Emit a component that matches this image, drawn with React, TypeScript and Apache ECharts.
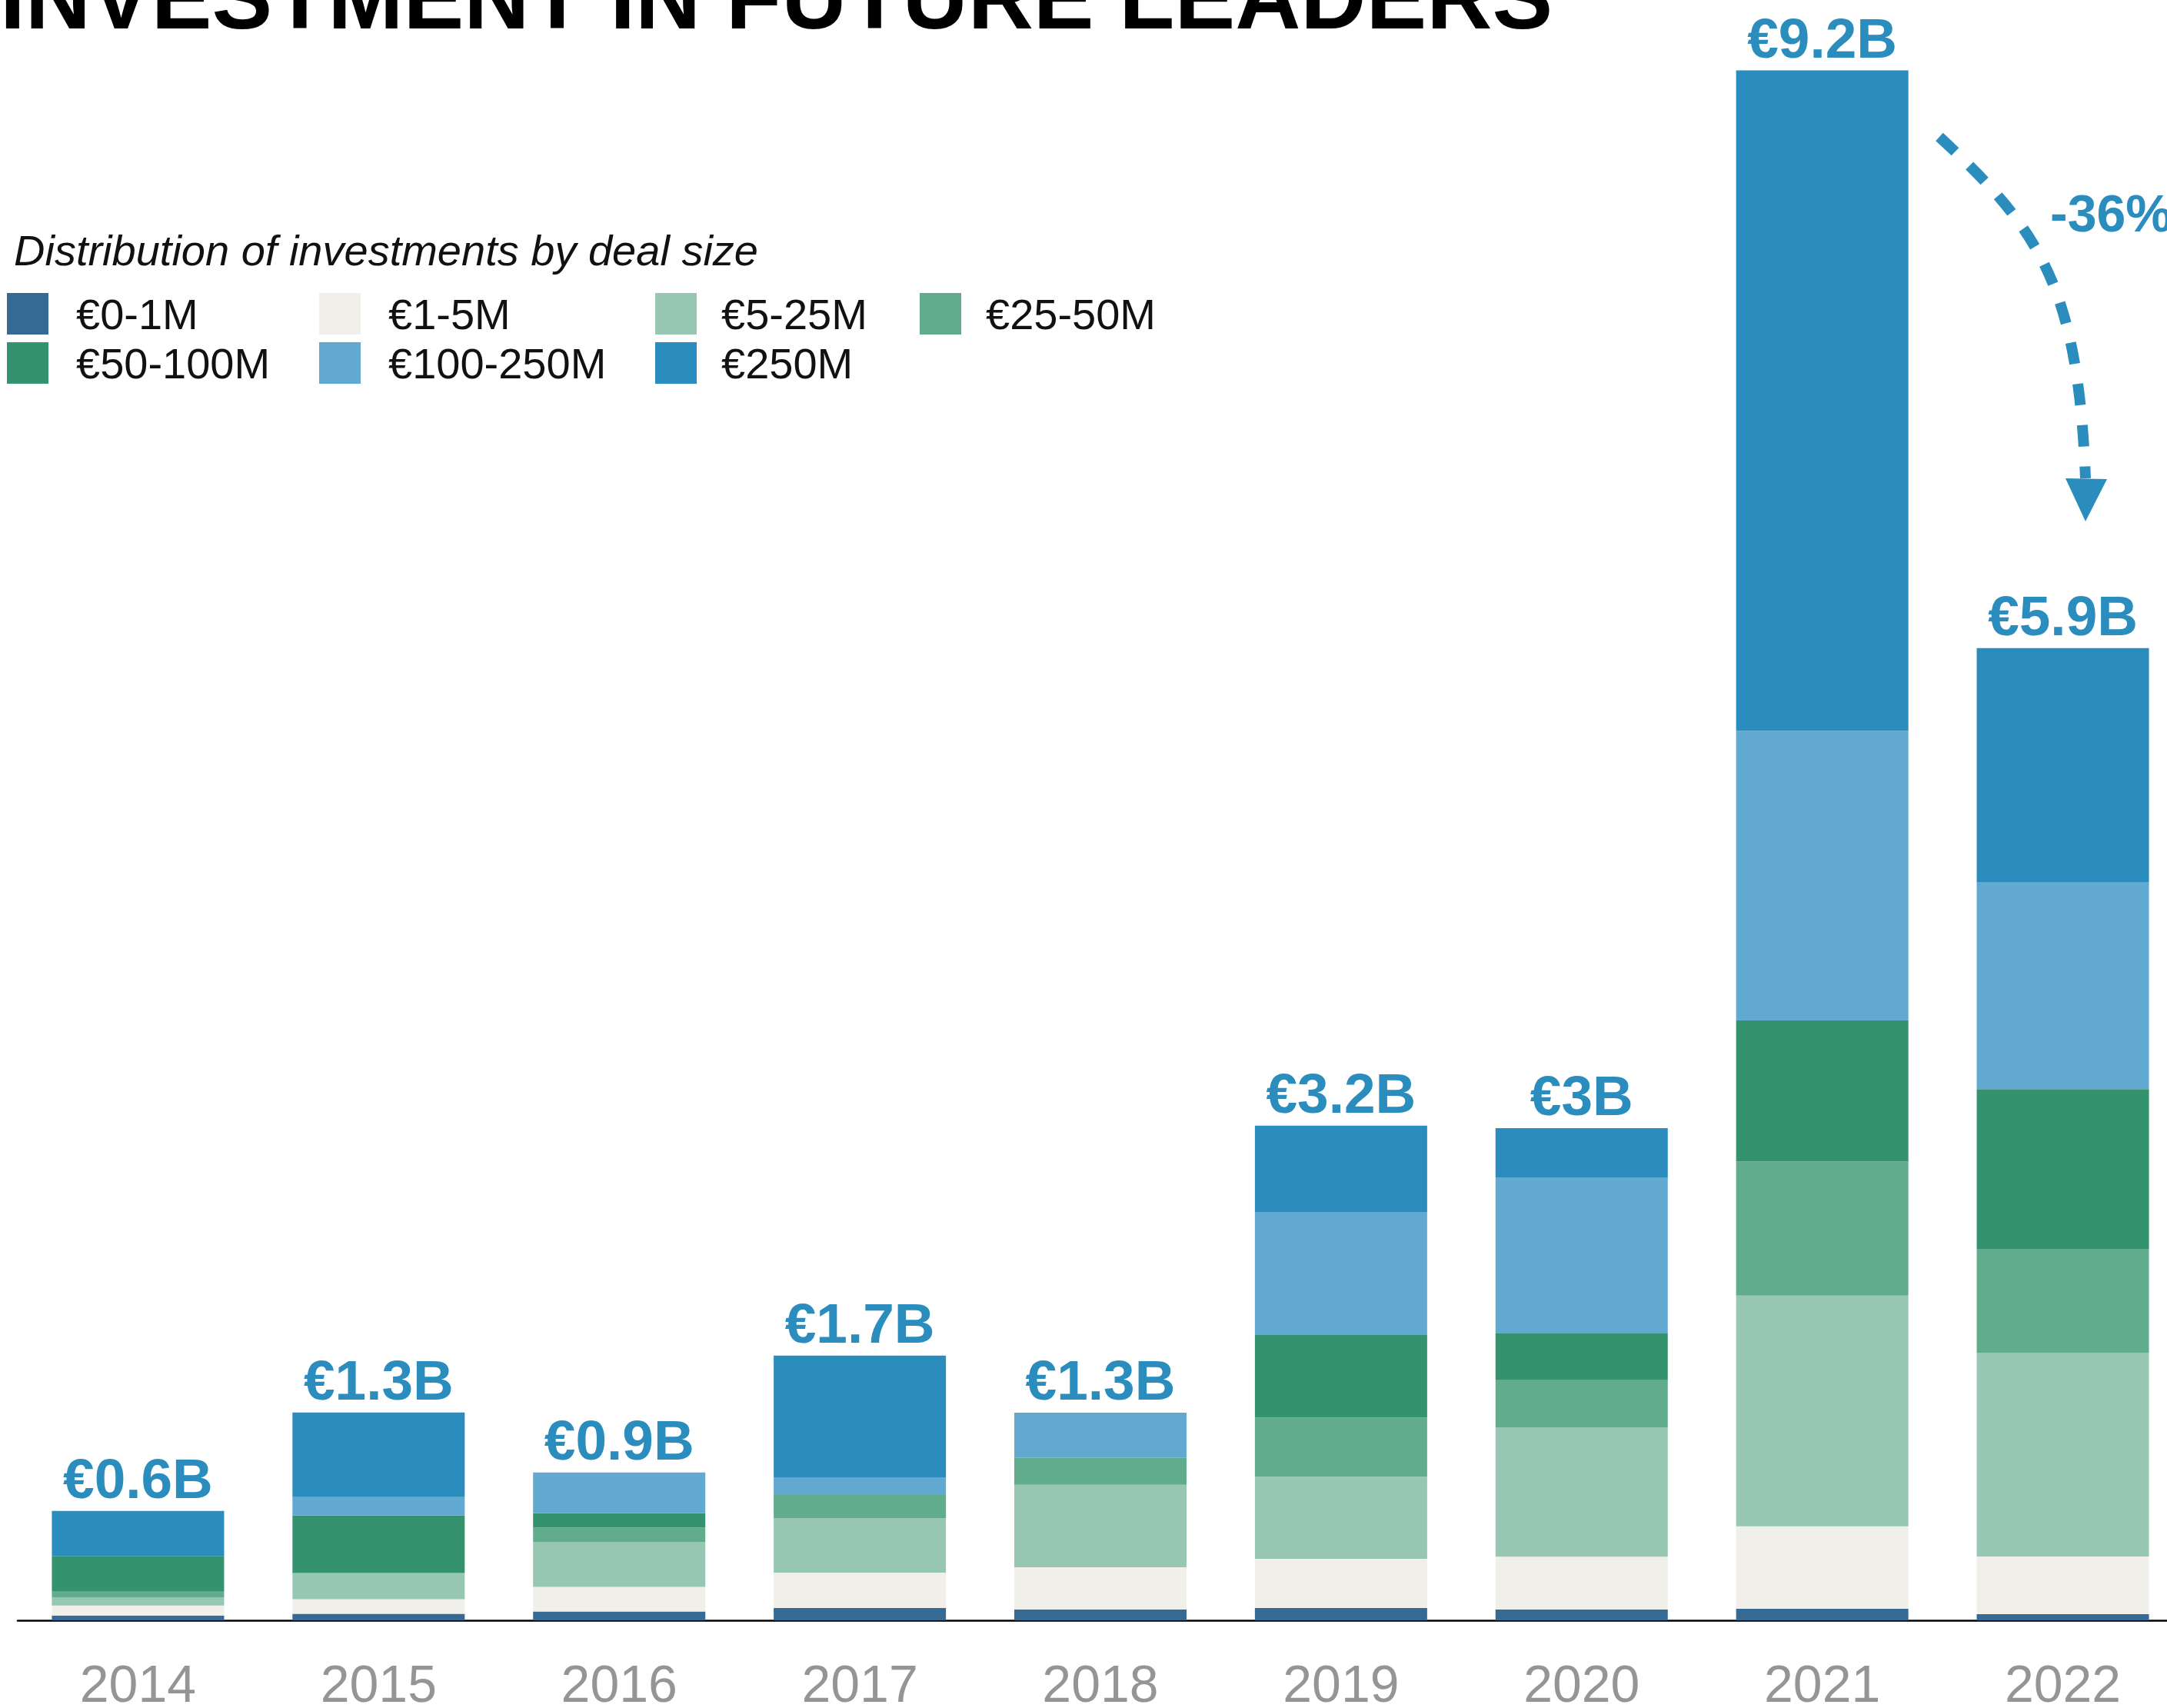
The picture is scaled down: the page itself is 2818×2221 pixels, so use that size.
import React, { useEffect, useRef } from "react";
import * as echarts from "echarts";

const years = ["2014", "2015", "2016", "2017", "2018", "2019", "2020", "2021", "2022"];
const dealSizes = ["€0-1M", "€1-5M", "€5-25M", "€25-50M", "€50-100M", "€100-250M", "€250M"];
const dealColors = ["#346A93", "#F0EFEA", "#97C6B3", "#60AC8D", "#34936E", "#61A9D1", "#2B8DBE"];

// values in € millions
const v0to1 = [29, 39, 52, 73, 64, 73, 64, 69, 37];
const v1to5 = [59, 87, 147, 210, 251, 292, 314, 489, 342];
const v5to25 = [47, 155, 267, 324, 489, 487, 766, 1370, 1207];
const v25to50 = [35, 0, 85, 137, 160, 352, 281, 795, 619];
const v50to100 = [210, 341, 85, 0, 0, 489, 281, 838, 948];
const v100to250 = [0, 110, 242, 105, 269, 731, 923, 1719, 1229];
const v250plus = [269, 502, 0, 722, 0, 512, 292, 3920, 1389];
const totalsB = [0.6, 1.3, 0.9, 1.7, 1.3, 3.2, 3, 9.2, 5.9];

const seriesValues = [v0to1, v1to5, v5to25, v25to50, v50to100, v100to250, v250plus];

const TITLE = "INVESTMENT IN FUTURE LEADERS";
const SUBTITLE = "Distribution of investments by deal size";
const CHANGE = "-36%";

const FONT = '"Liberation Sans", Arial, Helvetica, sans-serif';
const ACCENT = "#2B8DBE";

export default function App() {
  const ref = useRef<HTMLDivElement>(null);
  useEffect(() => {
    if (!ref.current) return;
    const chart = echarts.init(ref.current, null, { renderer: "svg" });

    const swatchX = [9, 415, 852, 1196];
    const textX = [99, 505, 938, 1282];
    const rowY = [381, 445];
    const sw = 54;
    const legendEls: any[] = [];
    dealSizes.forEach((name, i) => {
      const row = i < 4 ? 0 : 1;
      const col = i < 4 ? i : i - 4;
      legendEls.push({
        type: "rect",
        shape: { x: swatchX[col], y: rowY[row], width: sw, height: sw },
        style: { fill: dealColors[i] },
      });
      legendEls.push({
        type: "text",
        style: {
          text: name,
          x: textX[col],
          y: rowY[row] + sw / 2,
          fill: "#111",
          font: `56px ${FONT}`,
          align: "left",
          verticalAlign: "middle",
        },
      });
    });

    const bars: any[] = seriesValues.map((vals, i) => ({
      name: dealSizes[i],
      type: "bar",
      stack: "total",
      barWidth: 224,
      clip: false,
      data: vals,
      itemStyle: { color: dealColors[i] },
      emphasis: { disabled: true },
    }));
    bars.push({
      name: "total",
      type: "bar",
      stack: "total",
      barWidth: 224,
      clip: false,
      data: years.map(() => 0),
      itemStyle: { color: "rgba(0,0,0,0)" },
      label: {
        show: true,
        position: "top",
        distance: 6,
        formatter: (p: any) => "€" + totalsB[p.dataIndex] + "B",
        color: ACCENT,
        fontFamily: FONT,
        fontWeight: "bold",
        fontSize: 73,
        lineHeight: 73,
      },
      silent: true,
    });

    chart.setOption({
      animation: false,
      backgroundColor: "#ffffff",
      grid: { left: 23, width: 2816, top: 91.6, bottom: 114, outerBoundsMode: "none", containLabel: false },
      xAxis: {
        type: "category",
        data: years,
        offset: 1.2,
        axisLine: { show: true, lineStyle: { color: "#000", width: 2.6 } },
        axisTick: { show: false },
        axisLabel: {
          color: "#959595",
          fontFamily: FONT,
          fontSize: 68,
          lineHeight: 60,
          margin: 81,
          verticalAlign: "middle",
        },
      },
      yAxis: { type: "value", min: 0, max: 9200, show: false },
      series: bars,
      graphic: [
        {
          type: "text",
          style: {
            text: TITLE,
            x: 0,
            y: 37 - 0.3465 * 118,
            fill: "#000",
            font: `bold 118px ${FONT}`,
            align: "left",
            verticalAlign: "middle",
          },
        },
        {
          type: "text",
          style: {
            text: SUBTITLE,
            x: 18,
            y: 345 - 0.3465 * 56,
            fill: "#111",
            font: `italic 56px ${FONT}`,
            align: "left",
            verticalAlign: "middle",
          },
        },
        ...legendEls,
        {
          type: "bezierCurve",
          shape: { x1: 2522, y1: 178, cpx1: 2654, cpy1: 300, cpx2: 2702, cpy2: 374, x2: 2712, y2: 622 },
          style: { stroke: ACCENT, lineWidth: 14, lineDash: [28, 26], fill: null },
        },
        {
          type: "polygon",
          shape: { points: [[2686, 622], [2740, 623], [2712, 678]] },
          style: { fill: ACCENT },
        },
        {
          type: "text",
          style: {
            text: CHANGE,
            x: 2666,
            y: 277,
            fill: ACCENT,
            font: `bold 68px ${FONT}`,
            align: "left",
            verticalAlign: "middle",
          },
        },
      ],
    });
    return () => chart.dispose();
  }, []);
  return (
    <div
      ref={ref}
      style={{ position: "fixed", left: 0, top: 0, width: 2818, height: 2221, background: "#fff" }}
    />
  );
}
